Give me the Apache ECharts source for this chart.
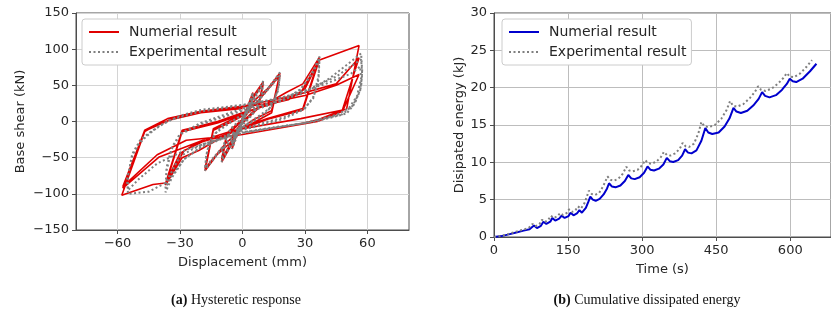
<!DOCTYPE html>
<html>
<head>
<meta charset="utf-8">
<script src="https://cdn.jsdelivr.net/npm/echarts@6/dist/echarts.min.js"></script>
<style>
html, body { margin: 0; padding: 0; background: #fff; }
#chart { width: 831px; height: 322px; }
</style>
</head>
<body>
<div id="chart"></div>
<script>
// (a) hysteretic response, [displacement mm, base shear kN] in loading order
const numericalLoops = [
    [0, 0],
    [3, 25], [5, 40], [3.5, 18], [0, 4], [-3, -20], [-5, -38], [-3.5, -16], [0, -2],
    [3, 22], [5, 37], [3.5, 16], [0, 2], [-3, -18], [-5, -35], [-3.5, -14], [0, 0],
    [4, 30], [10, 55], [7.5, 20], [3, 8], [0, 0], [-4, -25], [-10, -56], [-7.5, -18], [-3, -7], [0, 2],
    [4, 28], [10, 52], [7.5, 18], [0, -2], [-4, -22], [-10, -52], [-7.5, -16], [0, 3],
    [6, 30], [12, 45], [18, 67], [14, 15], [5, 2], [0, -8], [-6, -30], [-12, -45], [-18, -68], [-14, -12], [-5, 0], [0, 8],
    [8, 30], [18, 64], [14, 12], [0, -10], [-8, -30], [-18, -65], [-14, -10], [0, 10],
    [10, 22], [21, 40], [29, 52], [37, 89], [29, 18], [12, 4], [0, -8], [-10, -22], [-21, -40], [-29, -50], [-37, -88], [-29, -14], [-12, -2], [0, 10],
    [10, 22], [22, 30], [30, 45], [37, 86], [29, 16], [12, 3], [0, -10], [-12, -22], [-22, -30], [-30, -44], [-37, -86], [-29, -12], [-12, 0], [0, 12],
    [15, 25], [28, 40], [37, 85], [56, 105], [50, 17], [28, 4], [-4, -12], [-15, -22], [-28, -40], [-37, -85], [-43, -87], [-58, -102], [-47, -14], [-36, 4], [-20, 14], [0, 21],
    [10, 27], [25, 36], [45, 52], [56, 88], [48, 16], [36, 2], [20, -8], [0, -18], [-19, -26], [-40, -49], [-57.5, -92], [-47, -12], [-36, 4], [-20, 13], [0, 20],
    [10, 24], [30, 36], [45, 50], [56, 65], [48, 14], [36, 0], [0, -18], [-27, -26], [-41, -46], [-57.5, -90], [-47, -13], [-35, 2], [-20, 12], [0, 18]
];
const experimentalLoops = [
    [0, 0],
    [2, 18], [5, 40], [4, 25], [1, 5], [-2, -15], [-5, -38], [-4, -22], [-1, -4],
    [2, 15], [5, 36], [3.5, 18], [0, 0], [-3, -20], [-5, -34], [-3.5, -15], [0, 2],
    [4, 25], [8, 45], [10, 56], [9, 35], [6, 15], [0, -3], [-4, -25], [-8, -45], [-10, -56], [-9, -32], [-6, -12], [0, 5],
    [5, 28], [10, 52], [8.5, 28], [5, 10], [0, -5], [-5, -28], [-10, -52], [-8.5, -26], [-5, -8], [0, 5],
    [6, 28], [12, 45], [16, 60], [18, 68], [17.5, 50], [15, 25], [10, 8], [0, -8], [-6, -28], [-12, -45], [-16, -60], [-18, -68], [-17.5, -48], [-15, -24], [-10, -6], [0, 8],
    [8, 30], [14, 50], [18, 64], [17, 42], [13, 18], [0, -8], [-8, -30], [-14, -50], [-18, -64], [-17, -40], [-13, -16], [0, 10],
    [10, 20], [20, 30], [28, 45], [34, 70], [37, 90], [36.5, 62], [34, 34], [30, 18], [20, 6], [0, -10], [-10, -22], [-20, -35], [-28, -52], [-34, -78], [-37, -98], [-36.5, -68], [-34, -38], [-30, -18], [-20, -4], [0, 15],
    [10, 22], [20, 30], [28, 44], [34, 68], [37, 86], [36.5, 58], [34, 32], [29, 16], [20, 4], [0, -12], [-10, -24], [-20, -36], [-28, -52], [-34, -75], [-37, -92], [-36.5, -64], [-34, -36], [-30, -17], [-20, -2], [0, 18],
    [15, 26], [30, 40], [42, 60], [50, 78], [57, 94], [57.5, 70], [57, 48], [54, 25], [50, 11], [35, 0], [15, -8], [0, -15], [-20, -32], [-30, -48], [-37, -85], [-45, -97], [-55, -100], [-55.5, -80], [-53, -48], [-50, -32], [-46, -20], [-40, -6], [-30, 8], [-20, 16], [0, 23],
    [15, 30], [30, 42], [45, 62], [53, 78], [57, 86], [57.5, 65], [56.5, 42], [53, 22], [48, 10], [30, -2], [0, -16], [-15, -28], [-27, -39], [-41, -58], [-50, -80], [-55, -95], [-55, -75], [-53, -45], [-49, -25], [-44, -14], [-35, 2], [-20, 14], [0, 22],
    [20, 34], [40, 52], [52, 66], [56.5, 76], [57, 60], [55, 35], [51, 18], [45, 9], [30, -2], [0, -15]
];

// (b) cumulative dissipated energy, [time s, energy kJ]
const numericalEnergy = [
    [0, 0], [15, 0.12], [30, 0.35], [45, 0.6], [60, 0.85], [72, 1.05], [81, 1.55], [87, 1.2], [95, 1.5],
    [100, 2.05], [106, 1.75], [114, 2.05], [118, 2.55], [124, 2.2], [132, 2.45], [137, 2.85], [143, 2.55],
    [151, 2.8], [155, 3.25], [161, 2.9], [168, 3.15], [173, 3.6], [178, 3.25], [186, 3.9], [191, 4.7],
    [195, 5.4], [200, 5.0], [206, 4.85], [214, 5.1], [222, 5.7], [229, 6.5], [233, 7.2], [239, 6.75],
    [246, 6.65], [256, 6.9], [265, 7.5], [272, 8.3], [278, 7.85], [285, 7.75], [295, 8.0], [304, 8.6],
    [311, 9.45], [317, 9.0], [324, 8.9], [334, 9.15], [343, 9.7], [350, 10.6], [356, 10.15], [363, 10.05],
    [373, 10.3], [381, 10.9], [387, 11.75], [393, 11.3], [400, 11.2], [410, 11.6], [420, 12.9], [428, 14.6],
    [434, 14.0], [442, 13.8], [455, 14.0], [467, 14.8], [477, 15.9], [485, 17.3], [491, 16.8], [500, 16.6],
    [513, 16.9], [525, 17.6], [536, 18.5], [543, 19.4], [549, 18.9], [558, 18.7], [571, 19.0], [583, 19.7],
    [593, 20.5], [599, 21.2], [605, 20.85], [612, 20.75], [625, 21.2], [640, 22.2], [653, 23.2]
];
const experimentalEnergy = [
    [0, 0], [15, 0.15], [30, 0.42], [45, 0.72], [60, 1.0], [70, 1.2], [78, 1.75], [84, 1.45], [92, 1.7],
    [97, 2.3], [103, 2.0], [110, 2.3], [115, 2.85], [121, 2.55], [129, 2.8], [134, 3.2], [140, 2.95],
    [147, 3.2], [152, 3.7], [158, 3.35], [165, 3.6], [170, 4.1], [176, 3.8], [183, 4.5], [188, 5.4],
    [192, 6.2], [198, 5.75], [205, 5.65], [213, 5.9], [221, 6.8], [230, 8.1], [236, 7.65], [243, 7.55],
    [252, 7.8], [261, 8.5], [268, 9.4], [274, 8.9], [281, 8.8], [291, 9.0], [300, 9.6], [306, 10.3],
    [312, 9.9], [319, 9.8], [329, 10.1], [338, 10.7], [344, 11.4], [350, 11.0], [357, 10.9], [367, 11.2],
    [376, 11.8], [382, 12.6], [388, 12.15], [395, 12.05], [405, 12.5], [414, 13.9], [420, 15.4], [426, 14.85],
    [434, 14.7], [447, 15.0], [460, 15.8], [471, 17.0], [478, 18.2], [484, 17.6], [492, 17.45], [505, 17.8],
    [518, 18.6], [528, 19.4], [535, 20.2], [541, 19.7], [550, 19.55], [563, 19.9], [576, 20.6], [586, 21.3],
    [593, 21.95], [599, 21.5], [607, 21.4], [620, 21.9], [633, 22.8], [644, 23.7]
];

const dispTicks = [-60, -30, 0, 30, 60];
const timeTicks = [0, 150, 300, 450, 600];

const FONT = 'DejaVu Sans';
const INK = '#262626';
const SPINE = '#4d4d4d';
const minus = v => String(v).replace('-', '\u2212');

function axisBase(grid, gridColor) {
    return {
        gridIndex: grid,
        type: 'value',
        nameLocation: 'middle',
        nameTextStyle: {fontFamily: FONT, fontSize: 13, color: INK},
        axisLine: {show: true, onZero: false, lineStyle: {color: SPINE}},
        axisTick: {show: true, length: 4, lineStyle: {color: SPINE}},
        axisLabel: {fontFamily: FONT, fontSize: 13, color: INK, margin: 7, formatter: minus},
        splitLine: {show: true, lineStyle: {color: gridColor, width: 1}}
    };
}

function legendBase(left, names) {
    return {
        data: names,
        left: left,
        top: 19,
        orient: 'vertical',
        itemWidth: 30,
        itemHeight: 14,
        itemGap: 6,
        padding: [6, 5, 6, 6],
        backgroundColor: '#fff',
        borderColor: '#cccccc',
        borderWidth: 1,
        borderRadius: 3,
        selectedMode: false,
        // line-only sample, no marker
        itemStyle: {opacity: 0},
        textStyle: {fontFamily: FONT, fontSize: 14, color: INK, padding: [0, 0, 0, 5]},
        formatter: n => n.replace(' (b)', '')
    };
}

const chart = echarts.init(document.getElementById('chart'), null, {renderer: 'canvas'});

const xA = axisBase(0, '#d4d4d4');
xA.min = -80; xA.max = 80;
xA.name = 'Displacement (mm)'; xA.nameGap = 26;
xA.axisTick.customValues = dispTicks;
xA.axisLabel.customValues = dispTicks;

const yA = axisBase(0, '#d4d4d4');
yA.min = -150; yA.max = 150; yA.interval = 50;
yA.name = 'Base shear (kN)'; yA.nameGap = 49;

const xB = axisBase(1, '#bdbdbd');
xB.min = 0; xB.max = 682.5;
xB.name = 'Time (s)'; xB.nameGap = 26;
xB.axisTick.customValues = timeTicks;
xB.axisLabel.customValues = timeTicks;

const yB = axisBase(1, '#bdbdbd');
yB.min = 0; yB.max = 30; yB.interval = 5;
yB.name = 'Disipated energy (kJ)'; yB.nameGap = 28;

const options = {
    animation: false,
    backgroundColor: '#fff',
    grid: [
        {left: 76, top: 13, width: 333, height: 217, show: true, borderColor: SPINE, borderWidth: 1, backgroundColor: 'transparent'},
        {left: 494, top: 13, width: 337, height: 224, show: true, borderColor: SPINE, borderWidth: 1, backgroundColor: 'transparent'}
    ],
    xAxis: [xA, xB],
    yAxis: [yA, yB],
    legend: [
        legendBase(82, ['Numerial result', 'Experimental result']),
        legendBase(502, ['Numerial result (b)', 'Experimental result (b)'])
    ],
    series: [
        {
            type: 'line', name: 'Numerial result', xAxisIndex: 0, yAxisIndex: 0,
            data: numericalLoops, symbol: 'none', silent: true,
            lineStyle: {color: '#e00000', width: 1.6}, itemStyle: {color: '#e00000'}
        },
        {
            type: 'line', name: 'Experimental result', xAxisIndex: 0, yAxisIndex: 0,
            data: experimentalLoops, symbol: 'none', silent: true,
            lineStyle: {color: '#7f7f7f', width: 2, type: [2, 2.5]}, itemStyle: {color: '#7f7f7f'}
        },
        {
            type: 'line', name: 'Numerial result (b)', xAxisIndex: 1, yAxisIndex: 1,
            data: numericalEnergy, symbol: 'none', silent: true,
            lineStyle: {color: '#0000cd', width: 2}, itemStyle: {color: '#0000cd'}
        },
        {
            type: 'line', name: 'Experimental result (b)', xAxisIndex: 1, yAxisIndex: 1,
            data: experimentalEnergy, symbol: 'none', silent: true,
            lineStyle: {color: '#7f7f7f', width: 2, type: [2, 2.5]}, itemStyle: {color: '#7f7f7f'}
        }
    ],
    graphic: [
        {
            type: 'text', x: 236, y: 300, silent: true,
            style: {
                text: '{b|(a)} Hysteretic response',
                font: '14px "Liberation Serif"', fill: '#111',
                align: 'center', verticalAlign: 'middle', textAlign: 'center', textVerticalAlign: 'middle',
                rich: {b: {fontWeight: 'bold', fontFamily: 'Liberation Serif', fontSize: 14}}
            }
        },
        {
            type: 'text', x: 647, y: 300, silent: true,
            style: {
                text: '{b|(b)} Cumulative dissipated energy',
                font: '14px "Liberation Serif"', fill: '#111',
                align: 'center', verticalAlign: 'middle', textAlign: 'center', textVerticalAlign: 'middle',
                rich: {b: {fontWeight: 'bold', fontFamily: 'Liberation Serif', fontSize: 14}}
            }
        }
    ]
};

chart.setOption(options);
</script>
</body>
</html>
